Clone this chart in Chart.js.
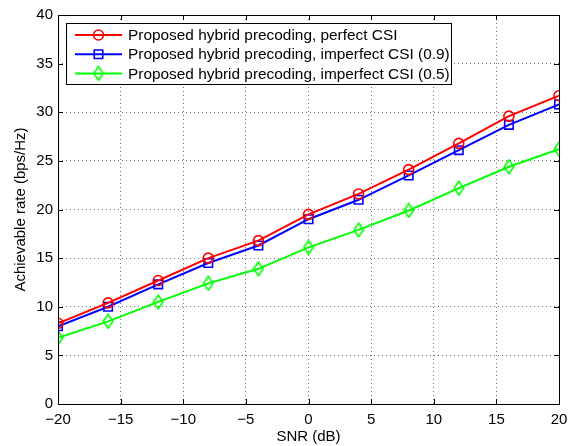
<!DOCTYPE html>
<html>
<head>
<meta charset="utf-8">
<script src="https://cdn.jsdelivr.net/npm/chart.js@4/dist/chart.umd.min.js"></script>
<style>
  html, body { margin: 0; padding: 0; background: #fff; }
  #wrap { width: 578px; height: 446px; }
</style>
</head>
<body>
<div id="wrap"><canvas id="chart" width="578" height="446"></canvas></div>
<script>
// SNR points (dB)
const snr = [-20, -16, -12, -8, -4, 0, 4, 8, 12, 16, 20];
// achievable rate (bps/Hz)
const perfectCSI = [8.3, 10.4, 12.7, 15.0, 16.8, 19.5, 21.6, 24.1, 26.8, 29.6, 31.7];
const imperfect09 = [8.0, 10.0, 12.3, 14.5, 16.3, 19.0, 21.0, 23.5, 26.1, 28.7, 30.8];
const imperfect05 = [6.8, 8.5, 10.5, 12.4, 13.9, 16.1, 17.9, 19.9, 22.2, 24.4, 26.2];
const seriesNames = [
  "Proposed hybrid precoding, perfect CSI",
  "Proposed hybrid precoding, imperfect CSI (0.9)",
  "Proposed hybrid precoding, imperfect CSI (0.5)",
];

const FONT = "'Liberation Sans', Arial, sans-serif";
Chart.defaults.font.family = FONT;
Chart.defaults.color = "#000";

const toXY = (ys) => snr.map((x, i) => ({ x: x, y: ys[i] }));
const minus = (v) => (v < 0 ? "\u2212" + Math.abs(v) : "" + v);

// matlab diamond is taller than wide
function diamond(color) {
  const c = document.createElement("canvas");
  c.width = 12; c.height = 16;
  const g = c.getContext("2d");
  g.strokeStyle = color;
  g.lineWidth = 1.6;
  g.beginPath();
  g.moveTo(6, 1.2); g.lineTo(10.8, 8); g.lineTo(6, 14.8); g.lineTo(1.2, 8);
  g.closePath();
  g.stroke();
  return c;
}

function series(label, ys, color, style, r) {
  return {
    label: label,
    data: toXY(ys),
    borderColor: color,
    backgroundColor: "rgba(0,0,0,0)",
    borderWidth: 2,
    pointStyle: style,
    pointRadius: r,
    pointBorderWidth: 1.6,
    pointBorderColor: color,
    pointBackgroundColor: "rgba(0,0,0,0)",
    tension: 0,
  };
}

// matlab-ish box, inward ticks and legend inside the axes
const matlabBox = {
  id: "matlabBox",
  afterDatasetsDraw(chart) {
    const { ctx, chartArea: a, scales } = chart;
    ctx.save();
    ctx.strokeStyle = "#000";
    ctx.lineWidth = 1;
    ctx.beginPath();
    scales.x.ticks.forEach((t) => {
      const px = Math.round(scales.x.getPixelForValue(t.value)) + 0.5;
      ctx.moveTo(px, a.bottom); ctx.lineTo(px, a.bottom - 5);
      ctx.moveTo(px, a.top); ctx.lineTo(px, a.top + 5);
    });
    scales.y.ticks.forEach((t) => {
      const py = Math.round(scales.y.getPixelForValue(t.value)) + 0.5;
      ctx.moveTo(a.left, py); ctx.lineTo(a.left + 5, py);
      ctx.moveTo(a.right, py); ctx.lineTo(a.right - 5, py);
    });
    ctx.stroke();
    ctx.strokeRect(Math.round(a.left) + 0.5, Math.round(a.top) + 0.5,
      Math.round(a.right - a.left), Math.round(a.bottom - a.top));

    // legend
    const bx = 66, by = 23, bw = 385, bh = 61;
    ctx.fillStyle = "#fff";
    ctx.fillRect(bx, by, bw, bh);
    ctx.strokeRect(bx + 0.5, by + 0.5, bw, bh);
    ctx.font = "15.4px " + FONT;
    ctx.textBaseline = "middle";
    chart.data.datasets.forEach((ds, i) => {
      const y = 35 + i * 19.2;
      ctx.strokeStyle = ds.borderColor;
      ctx.lineWidth = 2;
      ctx.beginPath();
      ctx.moveTo(75, y); ctx.lineTo(122, y);
      ctx.stroke();
      ctx.lineWidth = ds.pointBorderWidth;
      ctx.fillStyle = "rgba(0,0,0,0)";
      Chart.helpers.drawPoint(ctx, {
        pointStyle: ds.pointStyle, radius: ds.pointRadius, rotation: 0, borderWidth: ds.pointBorderWidth,
      }, 98.5, y);
      ctx.fillStyle = "#000";
      ctx.fillText(ds.label, 128, y + 1);
    });
    ctx.restore();
  },
};

new Chart(document.getElementById("chart"), {
  type: "line",
  data: {
    datasets: [
      series(seriesNames[0], perfectCSI, "#ff0000", "circle", 5),
      series(seriesNames[1], imperfect09, "#0000ff", "rect", 6),
      series(seriesNames[2], imperfect05, "#00ff00", diamond("#00ff00"), 6),
    ],
  },
  options: {
    responsive: false,
    animation: false,
    layout: { padding: { left: 0, right: 19, top: 15, bottom: 0 } },
    plugins: {
      legend: { display: false },
      tooltip: { enabled: false },
    },
    scales: {
      x: {
        type: "linear",
        min: -20,
        max: 20,
        afterFit: (s) => { s.height = 42; },
        border: { display: false, dash: [1, 3] },
        grid: { color: "rgba(0,0,0,0.55)", drawTicks: false, lineWidth: 1 },
        ticks: { stepSize: 5, padding: 7, font: { size: 15 }, callback: minus, maxRotation: 0 },
        title: { display: true, text: "SNR (dB)", font: { size: 15 }, padding: { top: 0, bottom: 0 } },
      },
      y: {
        min: 0,
        max: 40,
        afterFit: (s) => { s.width = 58; },
        border: { display: false, dash: [1, 3] },
        grid: { color: "rgba(0,0,0,0.55)", drawTicks: false, lineWidth: 1 },
        ticks: { stepSize: 5, padding: 5, font: { size: 15 } },
        title: { display: true, text: "Achievable rate (bps/Hz)", font: { size: 15 }, padding: { top: 12, bottom: 0 } },
      },
    },
  },
  plugins: [matlabBox],
});
</script>
</body>
</html>
